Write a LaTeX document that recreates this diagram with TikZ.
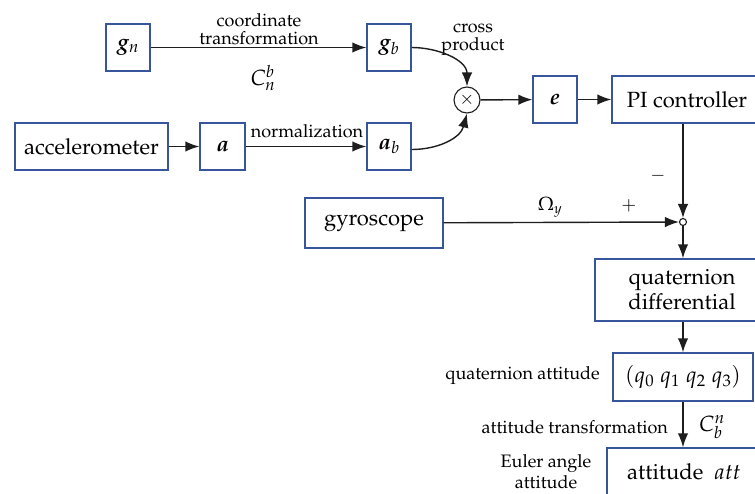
\documentclass[tikz,border=0pt]{standalone}
\usepackage[T1]{fontenc}
\usepackage{mathpazo}
\usepackage{bm}
\usetikzlibrary{arrows.meta}
\definecolor{boxblue}{RGB}{55,85,155}
\definecolor{linegray}{RGB}{30,30,30}
\newcommand{\bigf}{\fontsize{22}{25}\selectfont}
\newcommand{\smlf}{\fontsize{18}{18}\selectfont}
\begin{document}
\begin{tikzpicture}[x=1pt,y=-1pt,
  box/.style={draw=boxblue,line width=1.4pt,inner sep=0pt,font=\bigf,align=center},
  lbl/.style={inner sep=0pt,font=\smlf,align=center},
  conn/.style={draw=linegray,line width=1.4pt,-{Latex[length=14pt,width=10.5pt]}},
  plain/.style={draw=linegray,line width=1.4pt}]
\useasboundingbox (0,0) rectangle (755,493);
\clip (0,0) rectangle (755,493);
% boxes
\node[box,minimum width=44pt,minimum height=47pt] (gn) at (128,47.5) {$\bm{g}_n$};
\node[box,minimum width=44pt,minimum height=47pt] (gb) at (389,47.5) {$\bm{g}_b$};
\node[box,minimum width=153pt,minimum height=47pt] (acc) at (91.5,146.5) {accelerometer};
\node[box,minimum width=45pt,minimum height=47pt] (a) at (222.5,146.5) {$\bm{a}$};
\node[box,minimum width=44pt,minimum height=47pt] (ab) at (389,146.5) {$\bm{a}_b$};
\node[draw=linegray,line width=1.1pt,circle,minimum size=26pt,inner sep=0pt,font=\smlf] (x) at (467,100) {$\times$};
\node[box,minimum width=44pt,minimum height=47pt] (e) at (555,99.5) {$\bm{e}$};
\node[box,minimum width=150pt,minimum height=47pt] (pi) at (687,99.5) {PI controller};
\node[box,minimum width=138pt,minimum height=50pt] (gyro) at (374,223) {gyroscope};
\node[draw=linegray,line width=1.1pt,fill=white,circle,minimum size=7pt,inner sep=0pt] (j) at (683,222) {};
\node[box,minimum width=174pt,minimum height=62pt,font=\fontsize{22}{25}\selectfont] (qd) at (682,290) {quaternion\\differential};
\node[box,minimum width=140pt,minimum height=48pt] (q) at (683,377) {$\left(q_0\;q_1\;q_2\;q_3\right)$};
\node[box,minimum width=154pt,minimum height=48pt] (att) at (684,472) {attitude\ \ $att$};
% labels
\node[lbl] (l1) at (259,29) {coordinate\\transformation};
\node[lbl,font=\bigf] (l2) at (263,78) {$C_n^b$};
\node[lbl] (l3) at (473,40) {cross\\product};
\node[lbl] (l4) at (307,131) {normalization};
\node[lbl,font=\fontsize{19}{19}\selectfont] (l5) at (550,207) {$\Omega_y$};
\node[lbl] (l6) at (629,206) {$+$};
\node[lbl] (l7) at (658,176) {$-$};
\node[lbl,anchor=east] (l8) at (600,376) {quaternion attitude};
\node[lbl,anchor=east] (l9) at (668,427) {attitude transformation};
\node[lbl,font=\bigf] (l10) at (712,427) {$C_b^n$};
\node[lbl,font=\fontsize{18}{21}\selectfont] (l11) at (546,472) {Euler angle\\attitude};
% connectors
\draw[conn] (gn) -- (gb);
\draw[conn] (acc) -- (a);
\draw[conn] (a) -- (ab);
\draw[conn] (gb.east) to[out=0,in=90] (x.north);
\draw[conn] ([yshift=-3pt]ab.east) to[out=0,in=-105] (x.south);
\draw[conn] (x) -- (e);
\draw[conn] (e) -- (pi);
\draw[conn] (j |- pi.south) -- (j.north);
\draw[conn] (gyro) -- (j.west);
\draw[conn] (j.south) -- (j |- qd.north);
\draw[conn] (q |- qd.south) -- (q.north);
\draw[conn] (q.south) -- (q |- att.north);
\end{tikzpicture}
\end{document}
